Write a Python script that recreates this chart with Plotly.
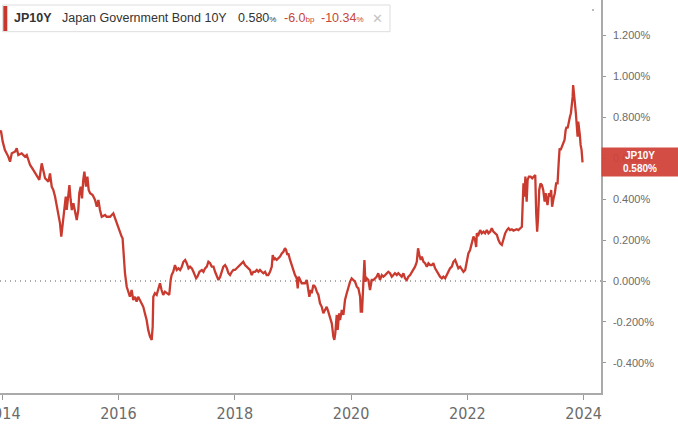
import plotly.graph_objects as go

# ---------------- data ----------------
dates = [
    "2013-12-14", "2013-12-24", "2014-01-04", "2014-01-18", "2014-02-08", "2014-02-19", "2014-03-02", "2014-03-22",
    "2014-04-02", "2014-04-12", "2014-05-03", "2014-05-24", "2014-06-04", "2014-06-25", "2014-07-15", "2014-08-06",
    "2014-08-22", "2014-09-06", "2014-09-16", "2014-09-27", "2014-10-18", "2014-10-28", "2014-11-08", "2014-11-18",
    "2014-11-29", "2014-12-09", "2014-12-19", "2014-12-30", "2015-01-07", "2015-01-16", "2015-01-24", "2015-02-04",
    "2015-02-10", "2015-02-20", "2015-02-27", "2015-03-07", "2015-03-14", "2015-03-24", "2015-04-03", "2015-04-14",
    "2015-04-24", "2015-04-30", "2015-05-09", "2015-05-17", "2015-05-25", "2015-06-01", "2015-06-11", "2015-06-20",
    "2015-06-28", "2015-07-07", "2015-07-23", "2015-08-07", "2015-08-18", "2015-08-28", "2015-09-07", "2015-09-18",
    "2015-10-09", "2015-10-19", "2015-11-09", "2015-11-30", "2015-12-11", "2015-12-21", "2015-12-31", "2016-01-10",
    "2016-01-21", "2016-01-27", "2016-02-05", "2016-02-11", "2016-02-22", "2016-03-03", "2016-03-13", "2016-03-24",
    "2016-04-03", "2016-04-14", "2016-04-24", "2016-05-04", "2016-05-15", "2016-05-26", "2016-06-05", "2016-06-15",
    "2016-06-26", "2016-07-06", "2016-07-17", "2016-07-28", "2016-08-03", "2016-08-07", "2016-08-17", "2016-08-28",
    "2016-09-07", "2016-09-18", "2016-09-28", "2016-10-08", "2016-10-19", "2016-10-30", "2016-11-15", "2016-11-24",
    "2016-11-30", "2016-12-10", "2016-12-21", "2017-01-01", "2017-01-12", "2017-01-22", "2017-02-02", "2017-02-12",
    "2017-02-23", "2017-03-05", "2017-03-16", "2017-03-26", "2017-04-06", "2017-04-16", "2017-04-27", "2017-05-03",
    "2017-05-11", "2017-05-24", "2017-06-08", "2017-06-18", "2017-06-28", "2017-07-09", "2017-07-19", "2017-07-30",
    "2017-08-09", "2017-08-20", "2017-08-30", "2017-09-10", "2017-09-20", "2017-10-01", "2017-10-11", "2017-10-21",
    "2017-11-01", "2017-11-12", "2017-11-22", "2017-12-02", "2017-12-13", "2017-12-23", "2018-01-02", "2018-01-13",
    "2018-01-23", "2018-02-03", "2018-02-13", "2018-02-23", "2018-03-06", "2018-03-17", "2018-03-27", "2018-04-06",
    "2018-04-17", "2018-04-27", "2018-05-08", "2018-05-19", "2018-05-29", "2018-06-08", "2018-06-19", "2018-06-29",
    "2018-07-10", "2018-07-20", "2018-07-30", "2018-08-10", "2018-08-21", "2018-08-27", "2018-09-04", "2018-09-11",
    "2018-09-21", "2018-10-01", "2018-10-12", "2018-10-23", "2018-11-02", "2018-11-12", "2018-11-19", "2018-11-27",
    "2018-12-03", "2018-12-14", "2018-12-24", "2019-01-03", "2019-01-14", "2019-01-25", "2019-01-31", "2019-02-06",
    "2019-02-15", "2019-02-25", "2019-03-07", "2019-03-18", "2019-03-29", "2019-04-04", "2019-04-14", "2019-04-23",
    "2019-04-29", "2019-05-09", "2019-05-20", "2019-05-31", "2019-06-10", "2019-06-20", "2019-07-01", "2019-07-11",
    "2019-07-22", "2019-08-01", "2019-08-11", "2019-08-22", "2019-09-02", "2019-09-12", "2019-09-18", "2019-09-24",
    "2019-10-03", "2019-10-09", "2019-10-18", "2019-10-24", "2019-11-04", "2019-11-14", "2019-11-24", "2019-12-05",
    "2019-12-15", "2019-12-26", "2020-01-05", "2020-01-15", "2020-01-26", "2020-02-06", "2020-02-16", "2020-02-27",
    "2020-03-02", "2020-03-10", "2020-03-18", "2020-03-25", "2020-03-31", "2020-04-09", "2020-04-19", "2020-04-29",
    "2020-05-10", "2020-05-20", "2020-05-31", "2020-06-10", "2020-06-20", "2020-07-01", "2020-07-12", "2020-07-22",
    "2020-08-02", "2020-08-12", "2020-08-22", "2020-09-02", "2020-09-13", "2020-09-23", "2020-10-03", "2020-10-14",
    "2020-10-24", "2020-11-04", "2020-11-14", "2020-11-25", "2020-12-05", "2020-12-16", "2020-12-26", "2021-01-06",
    "2021-01-17", "2021-01-27", "2021-02-06", "2021-02-17", "2021-02-25", "2021-03-05", "2021-03-14", "2021-03-21",
    "2021-03-31", "2021-04-10", "2021-04-21", "2021-05-01", "2021-05-12", "2021-05-22", "2021-06-01", "2021-06-12",
    "2021-06-23", "2021-07-03", "2021-07-13", "2021-07-24", "2021-08-03", "2021-08-14", "2021-08-25", "2021-09-04",
    "2021-09-14", "2021-09-25", "2021-10-05", "2021-10-16", "2021-10-26", "2021-11-05", "2021-11-16", "2021-11-27",
    "2021-12-07", "2021-12-18", "2021-12-28", "2022-01-07", "2022-01-18", "2022-01-29", "2022-02-08", "2022-02-18",
    "2022-02-25", "2022-03-01", "2022-03-11", "2022-03-22", "2022-04-01", "2022-04-12", "2022-04-22", "2022-05-03",
    "2022-05-13", "2022-05-24", "2022-06-03", "2022-06-13", "2022-06-24", "2022-07-05", "2022-07-15", "2022-07-25",
    "2022-08-05", "2022-08-15", "2022-08-26", "2022-09-06", "2022-09-16", "2022-09-26", "2022-10-07", "2022-10-17",
    "2022-10-28", "2022-11-07", "2022-11-17", "2022-11-28", "2022-12-09", "2022-12-15", "2022-12-19", "2022-12-25",
    "2022-12-31", "2023-01-08", "2023-01-14", "2023-01-22", "2023-02-02", "2023-02-12", "2023-02-22", "2023-03-03",
    "2023-03-09", "2023-03-15", "2023-03-21", "2023-03-28", "2023-04-05", "2023-04-14", "2023-04-22", "2023-05-01",
    "2023-05-07", "2023-05-13", "2023-05-19", "2023-05-28", "2023-06-05", "2023-06-11", "2023-06-17", "2023-06-26",
    "2023-07-04", "2023-07-12", "2023-07-21", "2023-07-28", "2023-08-03", "2023-08-09", "2023-08-17", "2023-08-25",
    "2023-09-03", "2023-09-10", "2023-09-16", "2023-09-22", "2023-09-28", "2023-10-07", "2023-10-13", "2023-10-19",
    "2023-10-24", "2023-10-27", "2023-11-01", "2023-11-07", "2023-11-13", "2023-11-18", "2023-11-24", "2023-11-28",
    "2023-12-04", "2023-12-08", "2023-12-13", "2023-12-19", "2023-12-25",
]
yields = [
    0.725, 0.735, 0.681, 0.640, 0.608, 0.583, 0.624, 0.632,
    0.649, 0.616, 0.624, 0.608, 0.616, 0.567, 0.543, 0.518,
    0.494, 0.575, 0.534, 0.502, 0.485, 0.526, 0.461, 0.445,
    0.412, 0.363, 0.314, 0.282, 0.217, 0.282, 0.347, 0.412,
    0.347, 0.445, 0.469, 0.396, 0.347, 0.380, 0.331, 0.298,
    0.347, 0.429, 0.461, 0.404, 0.494, 0.534, 0.461, 0.510,
    0.445, 0.429, 0.420, 0.396, 0.363, 0.396, 0.347, 0.314,
    0.323, 0.314, 0.314, 0.331, 0.306, 0.282, 0.258, 0.233,
    0.217, 0.209, 0.087, 0.038, -0.028, -0.060, -0.077, -0.044,
    -0.093, -0.077, -0.101, -0.077, -0.093, -0.109, -0.126, -0.158,
    -0.191, -0.239, -0.272, -0.288, -0.223, -0.077, -0.060, -0.068,
    -0.044, -0.011, -0.044, -0.068, -0.052, -0.060, -0.068, 0.005,
    0.029, 0.045, 0.078, 0.054, 0.062, 0.054, 0.070, 0.094,
    0.103, 0.087, 0.062, 0.070, 0.062, 0.045, 0.029, 0.013,
    0.021, 0.045, 0.054, 0.045, 0.062, 0.070, 0.094, 0.087,
    0.070, 0.070, 0.045, 0.021, 0.005, 0.021, 0.045, 0.070,
    0.078, 0.062, 0.038, 0.029, 0.045, 0.054, 0.054, 0.062,
    0.070, 0.078, 0.087, 0.094, 0.078, 0.070, 0.062, 0.054,
    0.029, 0.045, 0.045, 0.054, 0.045, 0.054, 0.045, 0.038,
    0.045, 0.029, 0.029, 0.045, 0.070, 0.127, 0.103, 0.111,
    0.103, 0.111, 0.119, 0.135, 0.143, 0.160, 0.152, 0.127,
    0.135, 0.103, 0.078, 0.054, 0.029, 0.013, -0.036, 0.021,
    0.005, -0.011, -0.011, -0.011, 0.005, -0.028, -0.077, -0.044,
    -0.060, -0.020, -0.028, -0.052, -0.068, -0.109, -0.126, -0.158,
    -0.142, -0.126, -0.150, -0.174, -0.207, -0.272, -0.288, -0.256,
    -0.166, -0.239, -0.158, -0.191, -0.142, -0.166, -0.093, -0.060,
    -0.028, -0.003, 0.013, 0.005, -0.003, -0.028, -0.036, -0.077,
    -0.150, -0.150, -0.011, 0.103, -0.003, 0.013, 0.005, -0.044,
    0.005, 0.005, 0.013, 0.021, 0.038, 0.005, 0.029, 0.021,
    0.029, 0.038, 0.045, 0.038, 0.021, 0.029, 0.038, 0.029,
    0.038, 0.029, 0.021, 0.038, 0.013, 0.005, 0.021, 0.029,
    0.045, 0.054, 0.070, 0.094, 0.160, 0.127, 0.103, 0.119,
    0.094, 0.087, 0.070, 0.087, 0.078, 0.078, 0.087, 0.062,
    0.045, 0.029, 0.021, 0.013, 0.021, 0.013, 0.029, 0.045,
    0.062, 0.070, 0.094, 0.103, 0.078, 0.062, 0.070, 0.054,
    0.045, 0.054, 0.087, 0.135, 0.152, 0.184, 0.217, 0.200,
    0.166, 0.233, 0.225, 0.249, 0.233, 0.241, 0.233, 0.249,
    0.233, 0.241, 0.258, 0.241, 0.233, 0.225, 0.200, 0.184,
    0.176, 0.209, 0.233, 0.249, 0.258, 0.249, 0.253, 0.246,
    0.249, 0.253, 0.249, 0.258, 0.265, 0.396, 0.477, 0.412,
    0.510, 0.388, 0.494, 0.510, 0.510, 0.502, 0.510, 0.518,
    0.331, 0.241, 0.314, 0.445, 0.477, 0.469, 0.445, 0.388,
    0.429, 0.396, 0.371, 0.429, 0.412, 0.445, 0.363, 0.404,
    0.429, 0.477, 0.477, 0.575, 0.649, 0.640, 0.656, 0.665,
    0.689, 0.738, 0.754, 0.746, 0.779, 0.803, 0.820, 0.860,
    0.901, 0.958, 0.893, 0.869, 0.820, 0.746, 0.705, 0.779,
    0.746, 0.714, 0.665, 0.640, 0.580,
]

x_tick_vals = ["2014-01-01", "2016-01-01", "2018-01-01", "2020-01-01", "2022-01-01", "2024-01-01"]
x_tick_text = ["2014", "2016", "2018", "2020", "2022", "2024"]
y_tick_vals = [-0.4, -0.2, 0.0, 0.2, 0.4, 0.6, 0.8, 1.0, 1.2]
y_tick_text = ["-0.400%", "-0.200%", "0.000%", "0.200%", "0.400%", "0.600%", "0.800%", "1.000%", "1.200%"]

symbol = "JP10Y"
bond_name = "Japan Government Bond 10Y"
last_value = "0.580"
change_bp = "-6.0"
change_pct = "-10.34"

# ---------------- layout helpers ----------------
W, H = 678, 424
ML, MR, MT, MB = 0, 77, 0, 31
PW, PH = W - ML - MR, H - MT - MB


def px(x):
    return (x - ML) / PW


def py(y):
    return 1 - (y - MT) / PH


LINE_RED = "#c93a2f"
TEXT_RED = "#c8463a"
DARK = "#333333"
GRAY = "#6b6b6b"
FONT = "Liberation Sans, Arial, sans-serif"

fig = go.Figure()
fig.add_trace(go.Scatter(
    x=dates, y=yields, mode="lines",
    line=dict(color=LINE_RED, width=2.3),
    hoverinfo="skip",
))

shapes = [
    # dotted zero line
    dict(type="line", xref="paper", yref="y", x0=0, x1=1, y0=0, y1=0,
         line=dict(color="#555555", width=1, dash="1px,4px"), layer="below"),
    # legend box
    dict(type="rect", xref="paper", yref="paper", x0=px(2.7), x1=px(390), y0=py(5), y1=py(31.7),
         line=dict(color="#dddddd", width=1), fillcolor="white", layer="above"),
    dict(type="rect", xref="paper", yref="paper", x0=px(3.3), x1=px(7.3), y0=py(6), y1=py(31),
         line=dict(width=0), fillcolor="#c9362c", layer="above"),
    # last price label box
    dict(type="rect", xref="paper", yref="paper", x0=px(601.5), x1=px(678), y0=py(147.5), y1=py(176.5),
         line=dict(width=0), fillcolor="rgba(208,66,56,0.94)", layer="above"),
    # small dot at top right
    dict(type="circle", xref="paper", yref="paper", x0=px(592.3), x1=px(593.7), y0=py(9.3), y1=py(10.7),
         line=dict(width=0), fillcolor="#444444", layer="above"),
]

ann = []
yc = py(18.5)
small = "font-size:8px"
ann.append(dict(text="<b>" + symbol + "</b>", x=px(12), y=yc, font=dict(size=12.5, color=DARK, family=FONT)))
ann.append(dict(text=bond_name, x=px(60), y=yc, font=dict(size=12.5, color=DARK, family=FONT)))
ann.append(dict(text=last_value + "<span style='" + small + "'>%</span>", x=px(236), y=yc,
                font=dict(size=12.5, color=DARK, family=FONT)))
ann.append(dict(text=change_bp + "<span style='" + small + "'>bp</span>", x=px(282), y=yc,
                font=dict(size=12.5, color=TEXT_RED, family=FONT)))
ann.append(dict(text=change_pct + "<span style='" + small + "'>%</span>", x=px(319), y=yc,
                font=dict(size=12.5, color=TEXT_RED, family=FONT)))
ann.append(dict(text="\u2715", x=px(370), y=yc, font=dict(size=13, color="#c4c4c4", family="DejaVu Sans")))
for a in ann:
    a.update(xref="paper", yref="paper", xanchor="left", yanchor="middle", showarrow=False)

ann.append(dict(text="<b>" + symbol + "</b><br><b>" + last_value + "%</b>", x=px(640), y=py(161.5),
                xref="paper", yref="paper", xanchor="center", yanchor="middle", showarrow=False,
                align="center", font=dict(size=10, color="white", family=FONT)))

fig.update_layout(
    width=W, height=H,
    margin=dict(l=ML, r=MR, t=MT, b=MB, pad=0),
    paper_bgcolor="white", plot_bgcolor="white",
    showlegend=False,
    shapes=shapes,
    annotations=ann,
    xaxis=dict(
        type="date", range=["2013-12-18", "2024-04-19"],
        tickmode="array", tickvals=x_tick_vals, ticktext=x_tick_text,
        ticks="outside", ticklen=5, tickcolor="#999999", tickwidth=1,
        showline=True, linecolor="#aaaaaa", linewidth=1.5,
        showgrid=False, zeroline=False, automargin=False,
        ticklabeloverflow="allow",
        tickfont=dict(family="Liberation Sans Narrow, DejaVu Sans Condensed, Liberation Sans", size=16, color=GRAY),
        fixedrange=True,
    ),
    yaxis=dict(
        side="right", range=[-0.5474, 1.3734],
        tickmode="array", tickvals=y_tick_vals, ticktext=y_tick_text,
        ticks="outside", ticklen=3, tickcolor="#999999", tickwidth=1,
        ticklabelstandoff=5,
        showline=True, linecolor="#aaaaaa", linewidth=1.5,
        showgrid=False, zeroline=False, automargin=False,
        ticklabeloverflow="allow",
        tickfont=dict(family=FONT, size=11, color=GRAY),
        fixedrange=True,
    ),
)

fig.write_html(
    "out.html",
    config={"displayModeBar": False},
    post_script="document.body.style.margin='0';document.body.style.overflow='hidden';",
)
